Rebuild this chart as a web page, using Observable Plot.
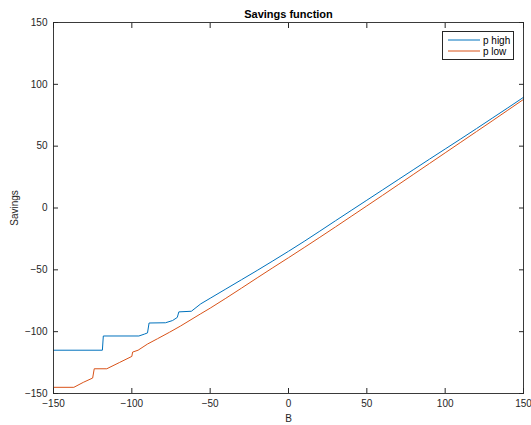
<!DOCTYPE html>
<html><head><meta charset="utf-8">
<script src="https://cdn.jsdelivr.net/npm/d3@7"></script>
<script src="https://cdn.jsdelivr.net/npm/@observablehq/plot@0.6"></script>
<style>
body{margin:0;background:#fff;font-family:"Liberation Sans",Arial,sans-serif}
#wrap{position:relative;width:531px;height:425px}
#legend{position:absolute;left:442px;top:31px;width:72px;height:29px;box-sizing:border-box;border:1px solid #262626;background:#fff}
#legend svg{display:block}
</style></head><body>
<div id="wrap"></div>
<script>
const xTicks = [-150, -100, -50, 0, 50, 100, 150];
const yTicks = [-150, -100, -50, 0, 50, 100, 150];
const seriesNames = ["p high", "p low"];
const seriesColors = ["#0072BD", "#D95319"];

const B_high = [-150, -118.8, -118.2, -95.5, -92, -90, -89, -78.5, -74, -71, -70, -62, -56, -50, -40, -30, -20, -10, 0, 10, 20, 30, 40, 50, 60, 70, 80, 90, 100, 110, 120, 130, 140, 150];
const S_high = [-115, -115, -103.5, -103.5, -102, -101, -93, -92.8, -91, -88.5, -84, -83.5, -77.5, -73, -65.5, -58, -50.5, -42.8, -35, -27, -18.7, -10.3, -2, 6.3, 14.6, 22.9, 31.2, 39.5, 47.7, 55.9, 64.2, 72.6, 81, 89.5];

const B_low = [-150, -137, -131, -125, -124, -116, -108, -100, -99.5, -96, -90, -83.6, -76, -69, -56, -50, -40, -30, -20, -10, 0, 10, 20, 30, 40, 50, 60, 70, 80, 90, 100, 110, 120, 130, 140, 150];
const S_low = [-145, -145, -141, -137.5, -130, -130, -125, -120, -116.5, -115, -110, -105.7, -100.5, -95.5, -85.5, -81, -73, -64.8, -56.5, -48.3, -40.2, -32, -23.7, -15.3, -6.8, 1.7, 10.2, 18.8, 27.4, 36, 44.6, 53.2, 61.8, 70.4, 79.1, 87.8];

const high = B_high.map((b, i) => ({B: b, S: S_high[i]}));
const low = B_low.map((b, i) => ({B: b, S: S_low[i]}));

const axisColor = "#262626";
const chart = Plot.plot({
  width: 531, height: 425,
  marginLeft: 53, marginRight: 8, marginTop: 22, marginBottom: 32,
  style: {fontFamily: '"Liberation Sans", Arial, sans-serif', fontSize: "10px", color: axisColor, background: "#fff"},
  x: {domain: [-150, 150]},
  y: {domain: [-150, 150]},
  marks: [
    Plot.line(high, {x: "B", y: "S", stroke: seriesColors[0], strokeWidth: 1}),
    Plot.line(low, {x: "B", y: "S", stroke: seriesColors[1], strokeWidth: 1}),
    Plot.frame({stroke: axisColor, strokeWidth: 0.9}),
    Plot.axisX(xTicks, {anchor: "bottom", tickSize: 0, tickPadding: 6, label: "B", labelAnchor: "center", labelArrow: "none", labelOffset: 28, fontSize: 10}),
    Plot.axisX(xTicks, {anchor: "bottom", tickSize: 5, dy: -5, text: null, label: null, stroke: axisColor}),
    Plot.axisX(xTicks, {anchor: "top", tickSize: 5, dy: 5, text: null, label: null, stroke: axisColor}),
    Plot.axisY(yTicks, {anchor: "left", tickSize: 0, tickPadding: 6, label: "Savings", labelAnchor: "center", labelArrow: "none", labelOffset: 43, fontSize: 10}),
    Plot.axisY(yTicks, {anchor: "left", tickSize: 5, dx: 5, text: null, label: null, stroke: axisColor}),
    Plot.axisY(yTicks, {anchor: "right", tickSize: 5, dx: -5, text: null, label: null, stroke: axisColor}),
    Plot.text(["Savings function"], {frameAnchor: "top", dy: -12, fontWeight: "bold", fontSize: 11, fill: "#000"})
  ]
});
const wrap = document.getElementById("wrap");
wrap.appendChild(chart);

const legend = document.createElement("div");
legend.id = "legend";
const ns = "http://www.w3.org/2000/svg";
const lsvg = document.createElementNS(ns, "svg");
lsvg.setAttribute("width", 70); lsvg.setAttribute("height", 27);
seriesNames.forEach((name, i) => {
  const yy = 8 + i * 11;
  const ln = document.createElementNS(ns, "line");
  ln.setAttribute("x1", 5); ln.setAttribute("x2", 37);
  ln.setAttribute("y1", yy); ln.setAttribute("y2", yy);
  ln.setAttribute("stroke", seriesColors[i]); ln.setAttribute("stroke-width", 1);
  lsvg.appendChild(ln);
  const t = document.createElementNS(ns, "text");
  t.setAttribute("x", 40); t.setAttribute("y", yy + 3.5);
  t.setAttribute("font-size", "10px");
  t.setAttribute("font-family", '"Liberation Sans", Arial, sans-serif');
  t.setAttribute("fill", "#000");
  t.textContent = name;
  lsvg.appendChild(t);
});
legend.appendChild(lsvg);
wrap.appendChild(legend);
</script>
</body></html>
